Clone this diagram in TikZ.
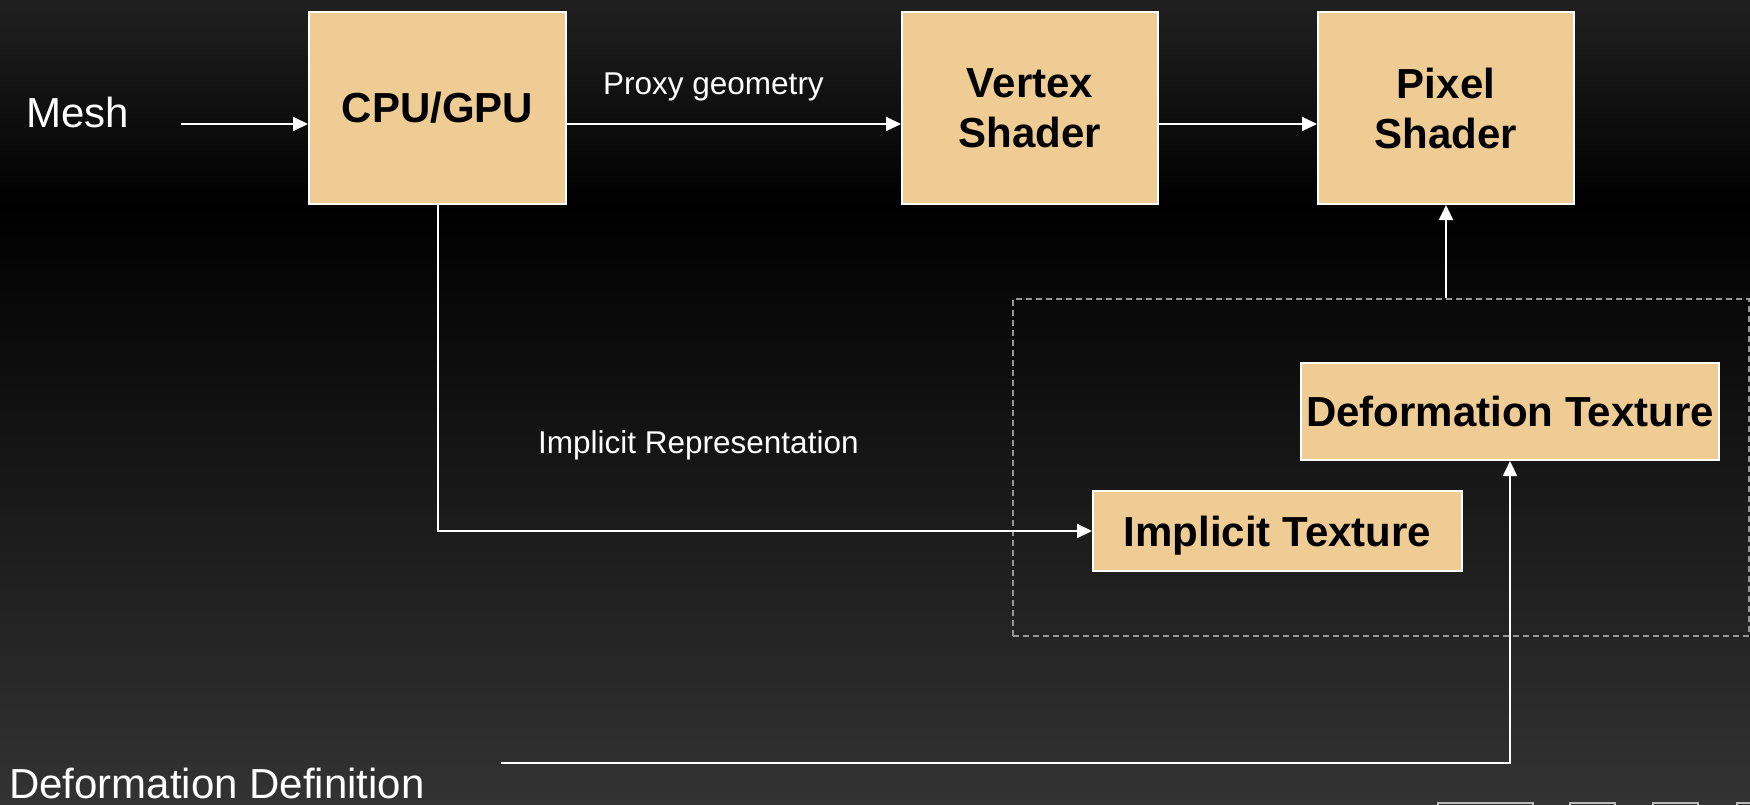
\documentclass[tikz,border=0pt]{standalone}
\usepackage{fontspec}
\setmainfont{Liberation Sans}
\usetikzlibrary{arrows.meta}
\definecolor{boxfill}{RGB}{239,204,147}
\definecolor{bgtop}{RGB}{32,32,32}
\definecolor{bgbot}{RGB}{51,51,51}
\definecolor{dashgray}{RGB}{150,150,150}
\definecolor{decogray}{RGB}{185,185,185}
\tikzset{
 box/.style={draw=white, line width=2pt, fill=boxfill, text=black, font=\fontsize{42}{51}\selectfont\bfseries, align=center, inner sep=0pt},
 conn/.style={draw=white, line width=2pt, -{Triangle[length=15pt,width=14pt]}},
 lbl/.style={text=white, inner sep=0pt, anchor=base west},
 biglbl/.style={lbl, font=\fontsize{42}{51}\selectfont},
 smalllbl/.style={lbl, font=\fontsize{31.5}{38}\selectfont},
 groupbox/.style={draw=dashgray, dash pattern=on 6pt off 4pt, line width=1.5pt, inner sep=0pt},
 deco/.style={draw=decogray, line width=1.3pt},
}
\begin{document}
\begin{tikzpicture}[x=1pt,y=-1pt]
\useasboundingbox (0,0) rectangle (1750,805);
\shade[top color=bgtop, bottom color=black] (0,0) rectangle (1750,205);
\shade[top color=black, bottom color=bgbot] (0,205) rectangle (1750,805);

% group (dashed)
\node[groupbox, minimum width=736pt, minimum height=337pt] (group) at (1381,467.5) {};

% boxes
\node[box, minimum width=257pt, minimum height=192pt] (cpu) at (437.5,108) {CPU/GPU};
\node[box, minimum width=256pt, minimum height=192pt] (vertex) at (1030,108) {Vertex\\[-1pt]Shader};
\node[box, minimum width=256pt, minimum height=192pt] (pixel) at (1446,108) {Pixel\\[-1pt]Shader};
\node[box, minimum width=418pt, minimum height=97pt, text depth=0pt] (deftex) at (1510,411.5) {Deformation Texture};
\node[box, minimum width=369pt, minimum height=80pt, text depth=0pt] (imptex) at (1277.5,531) {Implicit Texture};

% labels
\node[biglbl] (mesh) at (26,128) {Mesh};
\node[biglbl] (defdef) at (9,798) {Deformation Definition};
\node[smalllbl] (proxy) at (603,95) {Proxy geometry};
\node[smalllbl] (implrep) at (538,453) {Implicit Representation};

% connectors
\coordinate (m1) at (181,124);
\coordinate (d1) at (501,763);
\draw[conn] (m1) -- (m1 -| cpu.west);
\draw[conn] (m1 -| cpu.east) -- (m1 -| vertex.west);
\draw[conn] (m1 -| vertex.east) -- (m1 -| pixel.west);
\draw[conn] (pixel.south |- group.north) -- (pixel.south);
\draw[conn] (cpu.south) |- (imptex.west);
\draw[conn] (d1) -| (deftex.south);

% partial shapes at bottom edge
\draw[deco] (1438,808) -- (1438,803) -- (1533,803) -- (1533,808);
\draw[deco] (1570,808) -- (1570,803) -- (1615,803) -- (1615,808);
\draw[deco] (1653,808) -- (1653,803) -- (1698,803) -- (1698,808);
\draw[deco] (1737,808) -- (1737,803) -- (1752,803);
\end{tikzpicture}
\end{document}
